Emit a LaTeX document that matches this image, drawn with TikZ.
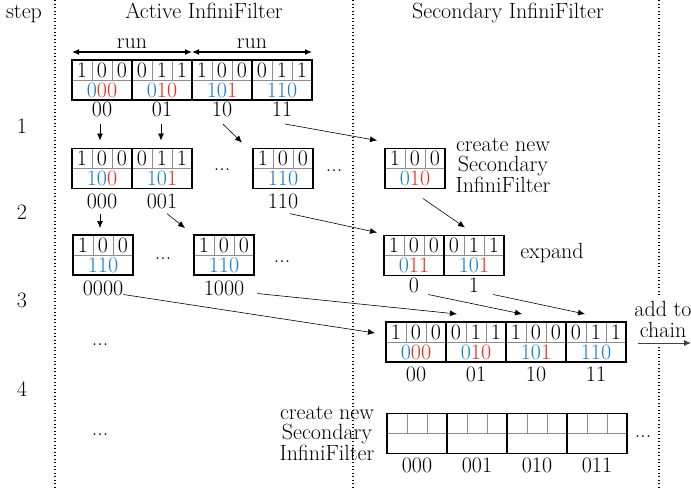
\documentclass[tikz,border=0pt]{standalone}
\usepackage{fontspec}
\usetikzlibrary{arrows.meta,calc}
\definecolor{qblue}{RGB}{28,125,200}
\definecolor{qred}{RGB}{232,45,30}
\newcommand\qB[1]{\textcolor{qblue}{#1}}
\newcommand\qR[1]{\textcolor{qred}{#1}}
% slot: name, x-left, y-top, d1, d2, d3, value
\newcommand\qslot[7]{%
  \node[slotbox] (#1) at (#2+30,#3+20) {};
  \draw[cellline] (#1.west) -- (#1.east)
    ([xshift=20pt]#1.north west) -- ([xshift=20pt]#1.west)
    ([xshift=40pt]#1.north west) -- ([xshift=40pt]#1.west);
  \node[dig] (#1-a) at ([xshift=10pt,yshift=-10pt]#1.north west) {#4};
  \node[dig] (#1-b) at ([xshift=30pt,yshift=-10pt]#1.north west) {#5};
  \node[dig] (#1-c) at ([xshift=50pt,yshift=-10pt]#1.north west) {#6};
  \node[dig] (#1-v) at ([yshift=-10pt]#1.center) {#7};
  \draw[border] (#1.north west) rectangle (#1.south east);
}
\tikzset{
  slotbox/.style={minimum width=60pt,minimum height=40pt,inner sep=0pt,outer sep=0pt},
  border/.style={line width=1.8pt,black},
  cellline/.style={line width=0.6pt,black!45},
  dig/.style={inner sep=0pt},
  lab/.style={inner sep=0pt},
  txt/.style={inner sep=0pt,align=center},
  arr/.style={-{Latex[length=7pt,width=6pt]},line width=0.6pt},
  runarr/.style={{Latex[length=7pt,width=6pt]}-{Latex[length=7pt,width=6pt]},line width=1.1pt},
  sepline/.style={line width=1.2pt,dash pattern=on 1.2pt off 2.3pt},
}
\begin{document}
\begin{tikzpicture}[x=1pt,y=-1pt,font=\fontsize{22pt}{20.5pt}\selectfont]
\useasboundingbox (0,0) rectangle (691,488);
% separators
\coordinate (v1t) at (55,0);   \coordinate (v1b) at (55,488);
\coordinate (v2t) at (353,0);  \coordinate (v2b) at (353,488);
\coordinate (v3t) at (659,0);  \coordinate (v3b) at (659,488);
\draw[sepline] (v1t) -- (v1b);
\draw[sepline] (v2t) -- (v2b);
\draw[sepline] (v3t) -- (v3b);
% headers
\node[lab,anchor=base] (hstep) at (24,18) {step};
\node[lab,anchor=base] (hact) at (204,18) {Active InfiniFilter};
\node[lab,anchor=base] (hsec) at (508,18) {Secondary InfiniFilter};
% step numbers
\node[lab] (n1) at (22,126) {1};
\node[lab] (n2) at (22,212) {2};
\node[lab] (n3) at (22,300) {3};
\node[lab] (n4) at (22,389) {4};
% top row
\qslot{a1}{72}{60}{1}{0}{0}{\qB{0}\qR{00}}
\qslot{a2}{132}{60}{0}{1}{1}{\qB{0}\qR{10}}
\qslot{a3}{192}{60}{1}{0}{0}{\qB{10}\qR{1}}
\qslot{a4}{252}{60}{0}{1}{1}{\qB{110}}
\node[lab] (l00) at (102,109.5) {00};
\node[lab] (l01) at (162,109.5) {01};
\node[lab] (l10) at (222,109.5) {10};
\node[lab] (l11) at (282,109.5) {11};
\draw[runarr] ([yshift=8pt]a1.north west) -- ([yshift=8pt]a2.north east);
\draw[runarr] ([yshift=8pt]a3.north west) -- ([yshift=8pt]a4.north east);
\node[lab,anchor=base] (run1) at (132,48) {run};
\node[lab,anchor=base] (run2) at (252,48) {run};
% row 2
\qslot{b1}{72}{148.5}{1}{0}{0}{\qB{10}\qR{0}}
\qslot{b2}{132}{148.5}{0}{1}{1}{\qB{10}\qR{1}}
\qslot{b3}{253}{148.5}{1}{0}{0}{\qB{110}}
\node[lab] (l000) at (102,201) {000};
\node[lab] (l001) at (162,201) {001};
\node[lab] (l110) at (283,201) {110};
\node[lab,anchor=base] (d1) at (222,170) {...};
\node[lab,anchor=base] (d2) at (334,171) {...};
% row 3
\qslot{c1}{73}{235}{1}{0}{0}{\qB{110}}
\qslot{c2}{194}{235}{1}{0}{0}{\qB{110}}
\node[lab] (l0000) at (103,288.5) {0000};
\node[lab] (l1000) at (224,288.5) {1000};
\node[lab,anchor=base] (d3) at (163,259) {...};
\node[lab,anchor=base] (d4) at (282,262) {...};
\node[lab,anchor=base] (d5) at (100,345.5) {...};
\node[lab,anchor=base] (d6) at (100,435.5) {...};
% secondary step 1
\qslot{s1}{385}{148.5}{1}{0}{0}{\qB{0}\qR{10}}
\node[txt] (cn1) at (503,165) {create new\\Secondary\\InfiniFilter};
% expand
\qslot{e1}{384}{235.5}{1}{0}{0}{\qB{0}\qR{11}}
\qslot{e2}{444}{235.5}{0}{1}{1}{\qB{10}\qR{1}}
\node[lab] (le0) at (414,285.5) {0};
\node[lab] (le1) at (474,285.5) {1};
\node[lab,anchor=base] (exp) at (552,258) {expand};
% step 3 secondary
\qslot{t1}{386}{322}{1}{0}{0}{\qB{0}\qR{00}}
\qslot{t2}{446}{322}{0}{1}{1}{\qB{0}\qR{10}}
\qslot{t3}{506}{322}{1}{0}{0}{\qB{10}\qR{1}}
\qslot{t4}{566}{322}{0}{1}{1}{\qB{110}}
\node[lab] (lt00) at (416,374) {00};
\node[lab] (lt01) at (476,374) {01};
\node[lab] (lt10) at (536,374) {10};
\node[lab] (lt11) at (596,374) {11};
\node[txt,fill=white,inner sep=4pt] (chain) at (663,319.5) {add to\\chain};
\coordinate (chainend) at (691,343);
\draw[arr,line width=0.9pt,black!75] ([xshift=12pt,yshift=-21pt]t4.north east) -- (chainend);
% step 4 secondary
\qslot{u1}{387}{413.5}{}{}{}{}
\qslot{u2}{447}{413.5}{}{}{}{}
\qslot{u3}{507}{413.5}{}{}{}{}
\qslot{u4}{567}{413.5}{}{}{}{}
\node[lab] (lu1) at (417,465.5) {000};
\node[lab] (lu2) at (477,465.5) {001};
\node[lab] (lu3) at (537,465.5) {010};
\node[lab] (lu4) at (597,465.5) {011};
\node[lab,anchor=base] (d7) at (643,437) {...};
\node[txt] (cn2) at (327,433) {create new\\Secondary\\InfiniFilter};
% arrows
\draw[arr] ([xshift=-2pt,yshift=-7pt]l00.south) -- ([xshift=-2pt,yshift=8pt]b1.north);
\draw[arr] ([xshift=-1pt,yshift=-7pt]l01.south) -- ([xshift=-1pt,yshift=8pt]b2.north);
\draw[arr] ([xshift=1pt,yshift=-7pt]l10.south) -- ([xshift=-11pt,yshift=6pt]b3.north west);
\draw[arr] ([xshift=3pt,yshift=-7pt]l11.south) -- ([xshift=-8pt,yshift=8pt]s1.north west);
\draw[arr] ([xshift=-2pt,yshift=-5pt]l000.south) -- ([xshift=-3pt,yshift=7pt]c1.north);
\draw[arr] ([xshift=5pt,yshift=-5pt]l001.south) -- ([xshift=-9pt,yshift=7pt]c2.north west);
\draw[arr] ([xshift=7pt,yshift=-5pt]l110.south) -- ([xshift=-7pt,yshift=3pt]e1.north west);
\draw[arr] ([xshift=8pt,yshift=-10pt]s1.south) -- ([xshift=21pt,yshift=8pt]e2.north west);
\draw[arr] ([yshift=-6pt]l0000.east) -- ([xshift=-11pt,yshift=-11pt]t1.north west);
\draw[arr] ([xshift=13pt,yshift=-5pt]l1000.east) -- ([xshift=11pt,yshift=8pt]t2.north west);
\draw[arr] ([xshift=9pt,yshift=-9pt]le0.east) -- ([xshift=16pt,yshift=8pt]t3.north west);
\draw[arr] ([xshift=14pt,yshift=-9pt]le1.east) -- ([xshift=19pt,yshift=8pt]t4.north west);
\end{tikzpicture}
\end{document}
